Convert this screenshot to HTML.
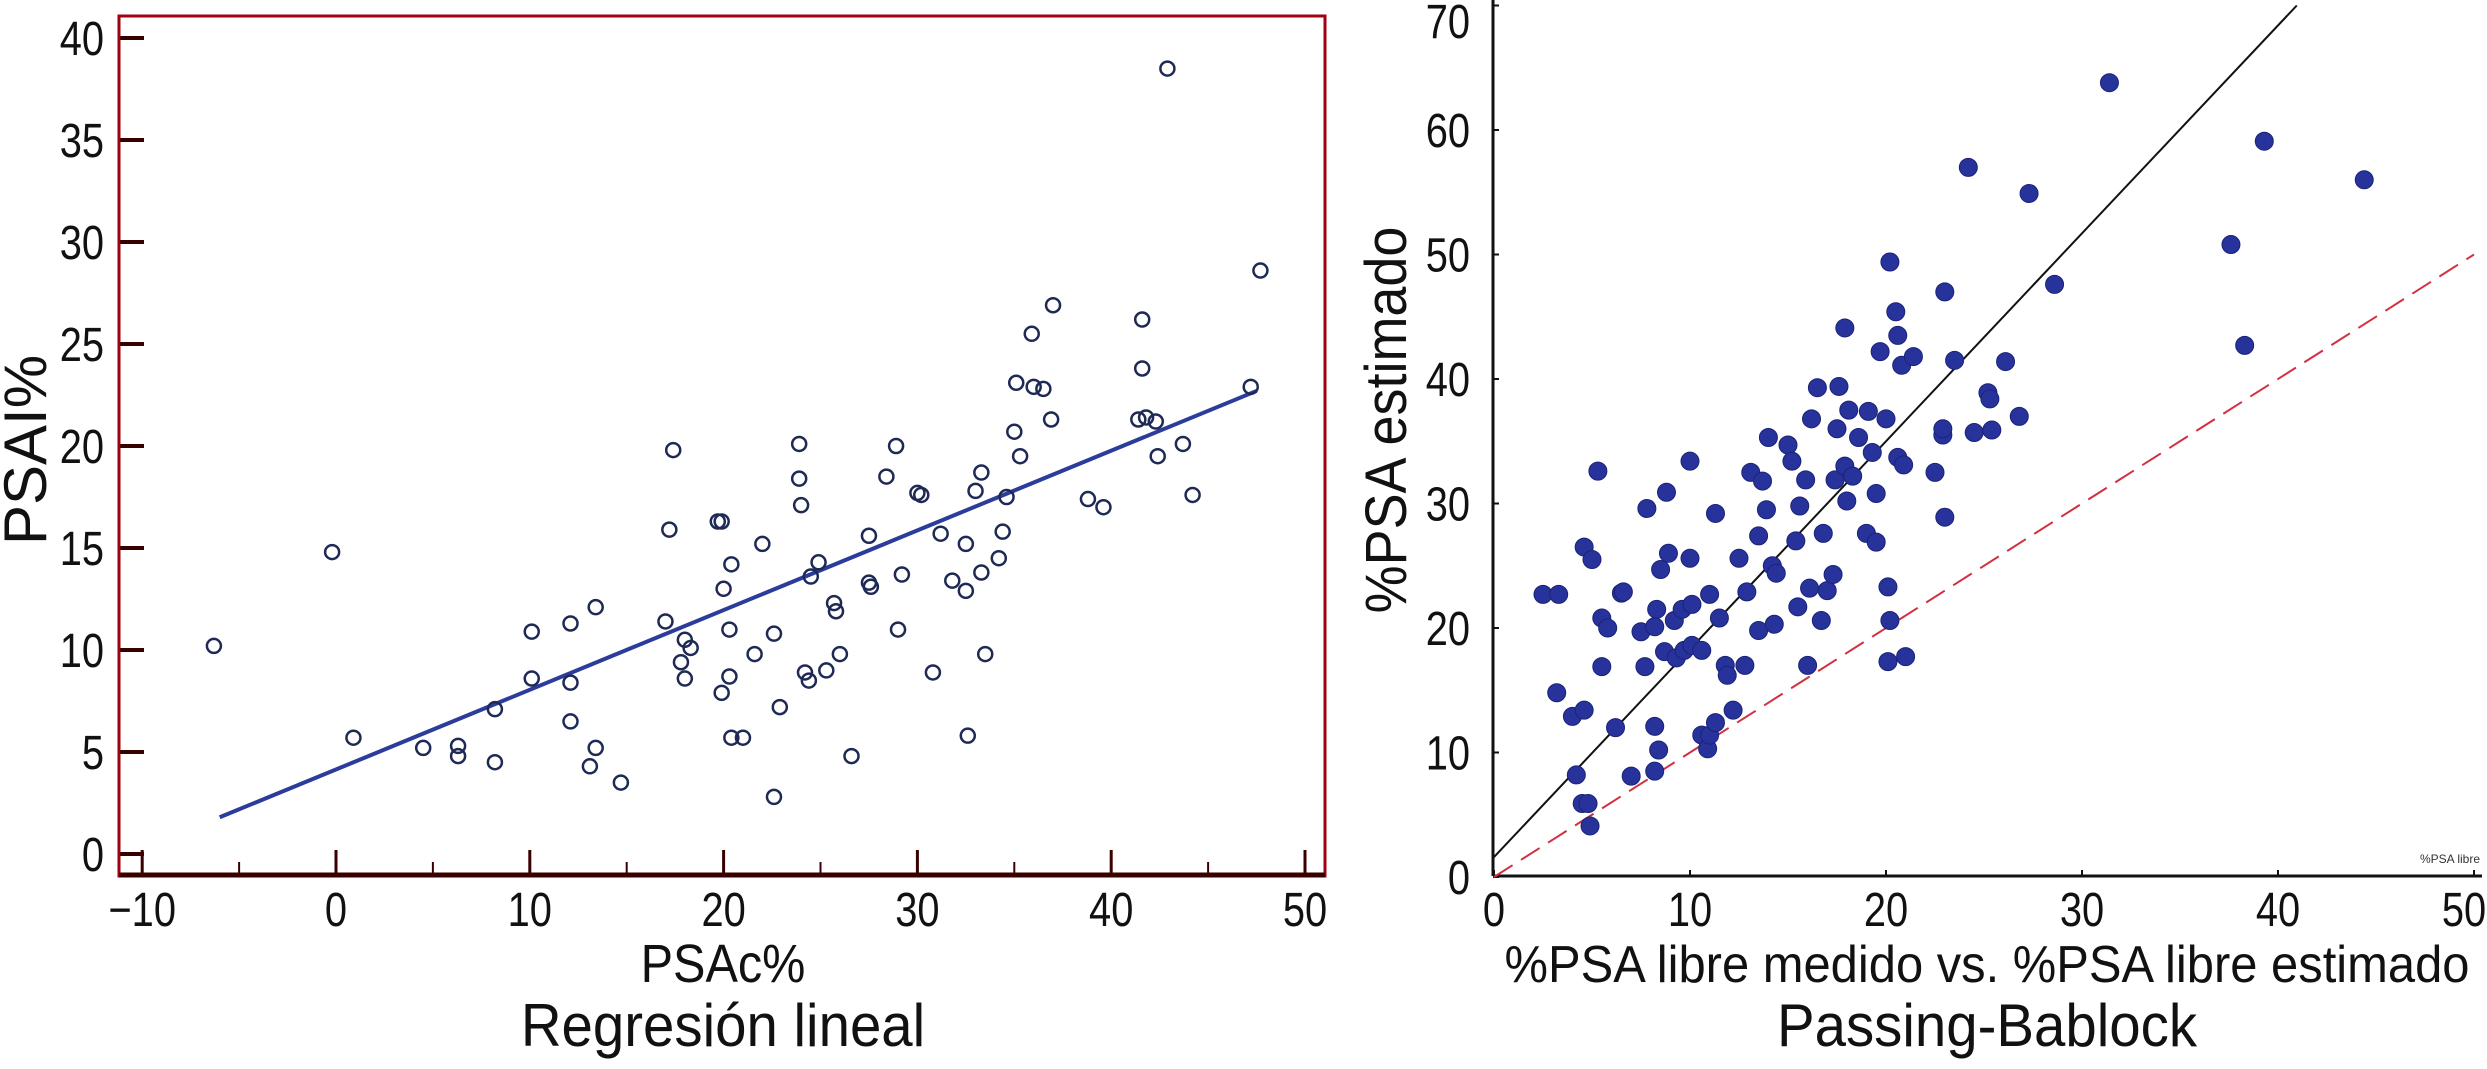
<!DOCTYPE html>
<html><head><meta charset="utf-8"><style>
html,body{margin:0;padding:0;background:#fff;}
svg{display:block;font-family:"Liberation Sans",Arial,sans-serif;}
</style></head><body>
<svg id="chart" width="2487" height="1069" viewBox="0 0 2487 1069" xmlns="http://www.w3.org/2000/svg">
<g id="left"></g>
<g id="right"></g>
</svg>
<script>
// ---- Left chart data ----
const leftX = [-6.3,-0.2,0.9,4.5,6.3,6.3,8.2,8.2,10.1,10.1,12.1,12.1,12.1,13.4,13.4,13.1,14.7,17,17.2,17.4,17.8,18,18,18.3,19.7,19.9,19.9,20,20.3,20.3,20.4,20.4,21,21.6,22,22.6,22.9,22.6,23.9,23.9,24,24.2,24.4,24.5,24.9,25.3,25.7,25.8,26,26.6,27.5,27.5,27.6,28.4,28.9,29,29.2,30,30.2,30.8,31.2,31.8,32.5,32.5,32.6,33,33.3,33.3,33.5,34.2,34.4,34.6,35,35.1,35.3,35.9,36,36.5,36.9,37,38.8,39.6,41.4,41.6,41.6,41.8,42.3,42.4,42.9,43.7,44.2,47.2,47.7];
const leftY = [10.2,14.8,5.7,5.2,5.3,4.8,4.5,7.1,10.9,8.6,11.3,8.4,6.5,12.1,5.2,4.3,3.5,11.4,15.9,19.8,9.4,10.5,8.6,10.1,16.3,16.3,7.9,13,11,8.7,14.2,5.7,5.7,9.8,15.2,10.8,7.2,2.8,20.1,18.4,17.1,8.9,8.5,13.6,14.3,9,12.3,11.9,9.8,4.8,15.6,13.3,13.1,18.5,20,11,13.7,17.7,17.6,8.9,15.7,13.4,15.2,12.9,5.8,17.8,18.7,13.8,9.8,14.5,15.8,17.5,20.7,23.1,19.5,25.5,22.9,22.8,21.3,26.9,17.4,17,21.3,26.2,23.8,21.4,21.2,19.5,38.5,20.1,17.6,22.9,28.6];
const leftFitX = [-6, 47.5];
const leftFitY = [1.8, 22.7];
const leftXTicks = [-10,0,10,20,30,40,50];
const leftXTickLabels = ["\u221210","0","10","20","30","40","50"];
const leftYTicks = [0,5,10,15,20,25,30,35,40];

// ---- Right chart data ----
const rightX = [2.5,3.3,3.2,4,4.6,4.2,4.5,4.8,4.9,4.6,5.0,5.3,5.5,5.5,5.8,6.2,6.5,6.6,7.0,7.5,7.7,7.8,8.2,8.2,8.4,8.3,8.2,8.7,8.5,8.9,8.8,9.2,9.6,9.3,9.7,10.0,10,10.1,10.1,10.6,10.6,10.9,11.0,11.3,11,11.3,11.5,11.8,11.9,12.2,12.5,12.8,12.9,13.1,13.5,13.5,13.7,13.9,14.0,14.2,14.4,14.3,15,15.2,15.4,15.5,15.6,15.9,16.0,16.1,16.2,16.5,16.8,16.7,17,17.3,17.4,17.5,17.6,17.9,17.9,18.0,18.1,18.3,18.6,19.0,19.1,19.3,19.5,19.5,19.7,20,20.1,20.2,20.2,20.5,20.6,20.8,20.6,20.9,21,20.1,21.4,22.5,22.9,22.9,23,23.0,23.5,24.2,24.5,25.2,25.3,25.4,26.1,26.8,27.3,28.6,31.4,37.6,38.3,39.3,44.4];
const rightY = [22.7,22.7,14.8,12.9,13.4,8.2,5.9,5.9,4.1,26.5,25.5,32.6,20.8,16.9,20.0,12.0,22.8,22.9,8.1,19.7,16.9,29.6,12.1,8.5,10.2,21.5,20.1,18.1,24.7,26.0,30.9,20.6,21.5,17.6,18.2,33.4,25.6,18.6,21.9,18.2,11.4,10.3,11.4,12.4,22.7,29.2,20.8,17.0,16.2,13.4,25.6,17.0,22.9,32.5,27.4,19.8,31.8,29.5,35.3,25.0,24.4,20.3,34.7,33.4,27.0,21.7,29.8,31.9,17.0,23.2,36.8,39.3,27.6,20.6,23.0,24.3,31.9,36.0,39.4,44.1,33.0,30.2,37.5,32.2,35.3,27.6,37.4,34.1,30.8,26.9,42.2,36.8,23.3,20.6,49.4,45.4,43.5,41.1,33.7,33.1,17.7,17.3,41.8,32.5,35.5,36.0,28.9,47.0,41.5,57.0,35.7,38.9,38.4,35.9,41.4,37.0,54.9,47.6,63.8,50.8,42.7,59.1,56.0];
const rightFitIntercept = [1.6];
const rightFitSlope = [1.67];
const identityX = [0, 50];
const rightXTicks = [0,10,20,30,40,50];
const rightYTicks = [0,10,20,30,40,50,60,70];

const NS = "http://www.w3.org/2000/svg";
function mk(parent, tag, attrs, text) {
  const e = document.createElementNS(NS, tag);
  for (const k in attrs) e.setAttribute(k, attrs[k]);
  if (text !== undefined) e.textContent = text;
  parent.appendChild(e);
  return e;
}
function txt(parent, x, y, size, sx, anchor, str, rot) {
  const tr = 'translate(' + x + ',' + y + ')' + (rot ? ' rotate(' + rot + ')' : '') + ' scale(' + sx + ',1)';
  return mk(parent, 'text', {x:0, y:0, transform:tr, 'text-anchor':anchor, 'font-size':size, fill:'#111'}, str);
}

// ---------- LEFT ----------
const L = document.getElementById('left');
const lx = v => 336 + 19.38 * v;
const ly = v => 854 - 20.4 * v;
const frame = mk(L, 'rect', {x:119, y:16, width:1206, height:860, fill:'none', stroke:'#a00010', 'stroke-width':3});


const bottomAxis = mk(L, 'line', {x1:119, y1:875, x2:1325, y2:875, stroke:'#3a0000', 'stroke-width':5});


leftXTicks.forEach((t, i) => {
  const tk = mk(L, 'line', {x1:lx(t), y1:874, x2:lx(t), y2:850, stroke:'#3a0000', 'stroke-width':3});
  
  
  if (i < leftXTicks.length - 1) {
    const mn = mk(L, 'line', {x1:lx(t + 5), y1:874, x2:lx(t + 5), y2:862, stroke:'#3a0000', 'stroke-width':2});
    
    
  }
  const lb = txt(L, lx(t), 926, 48, 0.83, 'middle', leftXTickLabels[i]);
  
  
});
leftYTicks.forEach(t => {
  const tk = mk(L, 'line', {x1:120, y1:ly(t), x2:144, y2:ly(t), stroke:'#3a0000', 'stroke-width':4});
  
  
  const lb = txt(L, 104, ly(t) + 17, 48, 0.83, 'end', String(t));
  
  
});
const fit = mk(L, 'line', {x1:lx(leftFitX[0]), y1:ly(leftFitY[0]), x2:lx(leftFitX[1]), y2:ly(leftFitY[1]), stroke:'#2b3c9a', 'stroke-width':4});


leftX.forEach((v, i) => {
  const c = mk(L, 'circle', {cx:lx(v), cy:ly(leftY[i]), r:7, fill:'none', stroke:'#1e2a55', 'stroke-width':2.5});
  
  
});
const ytl = mk(L, 'text', {x:0, y:0, transform:'translate(46,450) rotate(-90)', 'text-anchor':'middle', 'font-size':60, fill:'#111'}, 'PSAI%');


const xtl = txt(L, 723, 982, 54, 0.9, 'middle', 'PSAc%');


const ct1 = txt(L, 723, 1046, 60, 0.94, 'middle', 'Regresión lineal');



// ---------- RIGHT ----------
const R = document.getElementById('right');
const rx = v => 1494 + 19.6 * v;
const ry = v => 877 - 12.45 * v;
const yAx = mk(R, 'line', {x1:1493, y1:0, x2:1493, y2:876, stroke:'#111', 'stroke-width':3});


const xAx = mk(R, 'line', {x1:1493, y1:876, x2:2482, y2:876, stroke:'#111', 'stroke-width':3});


rightXTicks.forEach(t => {
  const tk = mk(R, 'line', {x1:rx(t), y1:876, x2:rx(t), y2:870, stroke:'#111', 'stroke-width':2});
  
  
  const lb = txt(R, rx(t) + (t === 50 ? -10 : 0), 926, 48, 0.83, 'middle', String(t));
  
  
});
rightYTicks.forEach(t => {
  const tk = mk(R, 'line', {x1:1493, y1:ry(t), x2:1499, y2:ry(t), stroke:'#111', 'stroke-width':2});
  
  
  const lb = txt(R, 1470, Math.max(ry(t) + 17, 38), 48, 0.83, 'end', String(t));
  
  
});
const idl = mk(R, 'line', {x1:rx(identityX[0]), y1:ry(identityX[0]), x2:rx(identityX[1]), y2:ry(identityX[1]), stroke:'#d23040', 'stroke-width':2, 'stroke-dasharray':'22 10'});


const xEnd = (70 - rightFitIntercept[0]) / rightFitSlope[0];
const pb = mk(R, 'line', {x1:rx(0), y1:ry(rightFitIntercept[0]), x2:rx(xEnd), y2:ry(70), stroke:'#111', 'stroke-width':2});


rightX.forEach((v, i) => {
  const c = mk(R, 'circle', {cx:rx(v), cy:ry(rightY[i]), r:9, fill:'#27339a', stroke:'#1a2377', 'stroke-width':1});
  
  
});
const small = mk(R, 'text', {x:2480, y:863, 'text-anchor':'end', 'font-size':12, fill:'#333'}, '%PSA libre');


const rytl = txt(R, 1406, 420, 58, 0.93, 'middle', '%PSA estimado', -90);


const rxtl = mk(R, 'text', {x:1987, y:982, 'text-anchor':'middle', 'font-size':52, fill:'#111', textLength:965, lengthAdjust:'spacingAndGlyphs'}, '%PSA libre medido vs. %PSA libre estimado');


const ct2 = txt(R, 1987, 1046, 60, 0.94, 'middle', 'Passing-Bablock');


</script>
</body></html>
